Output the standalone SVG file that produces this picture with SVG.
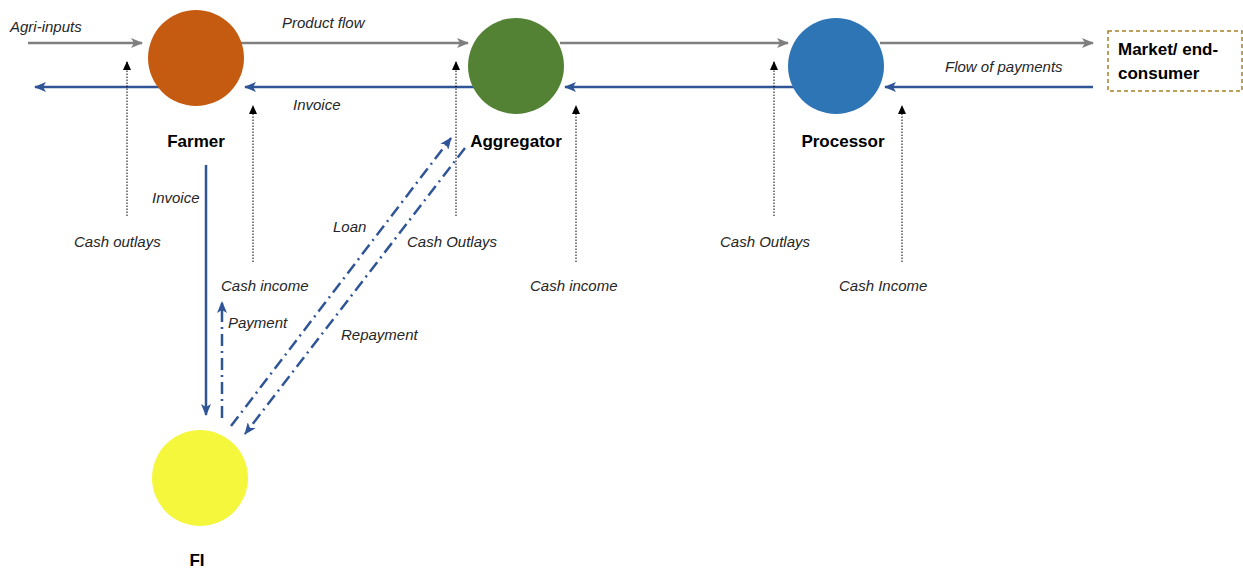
<svg xmlns="http://www.w3.org/2000/svg" width="1243" height="568" viewBox="0 0 1243 568">
<defs>
<style>
.it{font-family:"Liberation Sans",Arial,sans-serif;font-style:italic;font-size:15px;fill:#262626}
.bd{font-family:"Liberation Sans",Arial,sans-serif;font-weight:bold;font-size:17px;fill:#000}
.gray{stroke:#7f7f7f;stroke-width:2.5;fill:none}
.blue{stroke:#2f5597;stroke-width:2.5;fill:none}
.dd{stroke:#2f5597;stroke-width:2.5;fill:none;stroke-dasharray:12 5 2 5}
.dot{stroke:#000;stroke-width:1;fill:none;stroke-dasharray:1.5 1.5}
</style>
<marker id="ag" markerUnits="userSpaceOnUse" markerWidth="12" markerHeight="10" refX="11" refY="5" orient="auto"><path d="M0,0 L12,5 L0,10 L3,5 Z" fill="#7f7f7f"/></marker>
<marker id="ab" markerUnits="userSpaceOnUse" markerWidth="12" markerHeight="10" refX="11" refY="5" orient="auto"><path d="M0,0 L12,5 L0,10 L3,5 Z" fill="#2f5597"/></marker>
<marker id="ak" markerUnits="userSpaceOnUse" markerWidth="9" markerHeight="8" refX="8" refY="4" orient="auto"><path d="M0,0 L9,4 L0,8 Z" fill="#000"/></marker>
</defs>
<rect width="1243" height="568" fill="#fff"/>
<g id="connectors">
<line class="gray" x1="28" y1="43" x2="142" y2="43" marker-end="url(#ag)"/>
<line class="gray" x1="240" y1="43" x2="468" y2="43" marker-end="url(#ag)"/>
<line class="gray" x1="560" y1="43" x2="788" y2="43" marker-end="url(#ag)"/>
<line class="gray" x1="880" y1="43" x2="1093" y2="43" marker-end="url(#ag)"/>
<line class="blue" x1="160" y1="87" x2="35" y2="87" marker-end="url(#ab)"/>
<line class="blue" x1="478" y1="87" x2="245" y2="87" marker-end="url(#ab)"/>
<line class="blue" x1="798" y1="87" x2="565" y2="87" marker-end="url(#ab)"/>
<line class="blue" x1="1093" y1="87" x2="885" y2="87" marker-end="url(#ab)"/>
<line class="dot" x1="127" y1="216" x2="127" y2="62" marker-end="url(#ak)"/>
<line class="dot" x1="253" y1="262" x2="253" y2="106" marker-end="url(#ak)"/>
<line class="dot" x1="456" y1="216" x2="456" y2="62" marker-end="url(#ak)"/>
<line class="dot" x1="576" y1="262" x2="576" y2="106" marker-end="url(#ak)"/>
<line class="dot" x1="774" y1="216" x2="774" y2="62" marker-end="url(#ak)"/>
<line class="dot" x1="902" y1="262" x2="902" y2="106" marker-end="url(#ak)"/>
<line class="blue" x1="206" y1="165" x2="206" y2="415" marker-end="url(#ab)"/>
<line class="dd" x1="222" y1="418" x2="222" y2="302" marker-end="url(#ab)"/>
<line class="dd" x1="231" y1="426" x2="451" y2="138" marker-end="url(#ab)"/>
<line class="dd" x1="465" y1="148" x2="245" y2="434" marker-end="url(#ab)"/>
</g>
<g id="farmer"><circle cx="196" cy="58" r="48" fill="#c55a11"/><text class="bd" x="196" y="147" text-anchor="middle">Farmer</text></g>
<g id="aggregator"><circle cx="516" cy="66" r="48" fill="#548235"/><text class="bd" x="516" y="147" text-anchor="middle">Aggregator</text></g>
<g id="processor"><circle cx="836" cy="66" r="48" fill="#2e75b6"/><text class="bd" x="843" y="147" text-anchor="middle">Processor</text></g>
<g id="fi"><circle cx="200" cy="478" r="48" fill="#f4f73c"/><text class="bd" x="197" y="566" text-anchor="middle">FI</text></g>
<g id="market"><rect x="1108" y="31" width="134" height="60" fill="none" stroke="#a68025" stroke-width="1.5" stroke-dasharray="4 3"/><text class="bd" x="1118" y="55">Market/ end-</text><text class="bd" x="1118" y="79">consumer</text></g>
<g id="labels">
<text class="it" x="10" y="32">Agri-inputs</text>
<text class="it" x="282" y="28">Product flow</text>
<text class="it" x="293" y="110">Invoice</text>
<text class="it" x="945" y="72">Flow of payments</text>
<text class="it" x="152" y="203">Invoice</text>
<text class="it" x="74" y="247">Cash outlays</text>
<text class="it" x="221" y="291">Cash income</text>
<text class="it" x="228" y="328">Payment</text>
<text class="it" x="333" y="232">Loan</text>
<text class="it" x="407" y="247">Cash Outlays</text>
<text class="it" x="341" y="340">Repayment</text>
<text class="it" x="530" y="291">Cash income</text>
<text class="it" x="720" y="247">Cash Outlays</text>
<text class="it" x="839" y="291">Cash Income</text>
</g>
</svg>
